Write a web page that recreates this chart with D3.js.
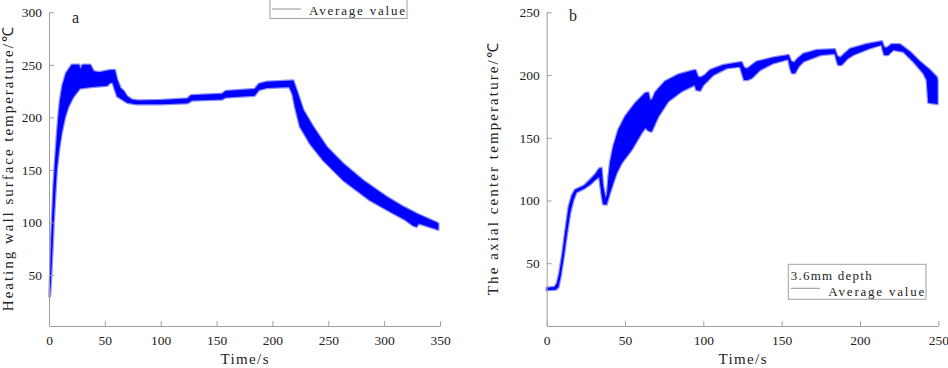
<!DOCTYPE html>
<html>
<head>
<meta charset="utf-8">
<script src="https://cdn.jsdelivr.net/npm/d3@7"></script>
<style>
  body { margin: 0; background: #fff; }
  .label { font-family: "Liberation Serif", serif; fill: #222; }
</style>
</head>
<body>
<div id="chart"></div>
<script>
// panel a: heating wall surface temperature band (upper / lower envelope)
const aUpperT = [0.5, 1, 2, 3, 4, 5, 6, 7, 8.3, 9.8, 11.9, 15.2, 20.3, 27, 28, 30, 37, 40, 45, 55, 57, 59, 61, 64, 67, 70, 74, 80, 100, 124, 127, 155, 158, 184, 188, 195, 218.7, 221.7, 227.7, 236.6, 248.6, 263.5, 281.4, 302.3, 317.2, 330, 347, 348.5];
const aUpperV = [33, 50, 85, 110, 135, 152, 167, 182, 200, 216, 230, 242, 250, 250, 246, 250, 250, 244, 243, 245, 245, 245, 236, 228, 225, 220, 217, 216, 216.5, 218, 221, 222.5, 225, 227, 232, 234, 235, 226, 207, 191, 172, 156, 140, 124.5, 115, 108, 100, 99];
const aLowerT = [0.5, 1, 2, 3, 4, 5, 6, 7, 9, 11.3, 14.3, 17.3, 21.8, 27.7, 38, 52, 55, 57, 59, 61, 64, 70, 78, 100, 124, 128, 155, 158, 184, 188, 195, 215, 218, 220.2, 224.7, 233.6, 245.5, 263.5, 287.4, 308.2, 318, 326, 329, 331, 348.5];
const aLowerV = [29, 32, 50, 72, 95, 115, 133, 150, 169, 185, 200, 210, 219.5, 227.5, 229, 230, 233, 233, 226, 220, 218, 214, 212.5, 212.5, 213.5, 216, 217, 219, 220.5, 226, 228, 229, 222, 210, 191, 175, 159, 140, 121, 108.6, 103, 97, 96, 99, 93];

// panel b: axial center temperature band
const bUpperT = [0, 5, 6.5, 8, 10, 12, 14, 16, 18, 24, 28, 31, 33.5, 35, 36, 37.5, 38.5, 39.3, 40.4, 42.5, 45.7, 50, 56.4, 62.8, 64.9, 66, 67.5, 69.1, 75.5, 84, 92.6, 95, 96.5, 98, 101, 104.2, 112.7, 123.4, 124.5, 126, 128, 130, 134, 144.7, 154.5, 156, 158, 160, 163.8, 172.4, 184, 185.5, 187.5, 190, 193.6, 204.3, 214, 215.5, 217.5, 220, 225.5, 231.9, 238.3, 244.7, 249, 249.5];
const bUpperV = [30.5, 31, 34, 42, 58, 77, 95, 104, 108.5, 112, 117, 121, 125.5, 126, 112, 102, 105, 117, 130, 143, 156.4, 167, 177.6, 185.6, 186, 180, 181, 186, 195, 200.5, 203.5, 204, 199, 198, 200, 204, 208, 210.2, 210.2, 206, 205, 207, 210.7, 214, 216, 211, 210, 213, 217, 220, 220.5, 215, 214, 217, 221, 224.7, 227, 222, 222, 224.5, 224.5, 218.6, 210.7, 204, 198.5, 196];
const bLowerT = [0, 6, 7.5, 9, 11, 13, 15, 17, 19, 24, 28, 31, 33.5, 35, 36, 38.2, 40.4, 42.5, 44.7, 47.9, 54.3, 60.6, 63, 64.5, 66, 67, 71.3, 77.6, 86.2, 94.5, 95.5, 98, 100, 106.4, 114.9, 123.4, 125, 126, 128, 130.9, 136.2, 144.7, 154.2, 155.5, 156.5, 158.5, 161, 164, 174.9, 184, 185, 186, 188.3, 192, 195.7, 206.4, 213.8, 214.5, 215.5, 218, 221.3, 227.6, 234, 240.4, 242.6, 243.6, 249.5];
const bLowerV = [28.5, 29, 31, 40, 56, 74, 90, 100, 106.5, 109.5, 113, 116.5, 119, 105, 97, 96.8, 106, 114, 122, 130, 140.5, 153.8, 158, 156, 155, 155, 167, 179, 187, 192, 188, 187.5, 192, 200, 205.4, 206.7, 200, 196, 196, 197.5, 204, 209.4, 212.5, 205, 201.5, 201.5, 207, 210.7, 216, 217, 212, 208, 208, 213, 216, 221.3, 224, 220, 216, 216, 220, 218.6, 210.7, 201.4, 196, 178, 177];

const aXTicks = [0, 50, 100, 150, 200, 250, 300, 350];
const aYTicks = [50, 100, 150, 200, 250, 300];
const bXTicks = [0, 50, 100, 150, 200, 250];
const bYTicks = [50, 100, 150, 200, 250];

const svg = d3.select("#chart")
  .append("svg")
  .attr("width", 948)
  .attr("height", 368);

const axisColor = "#a0a0a0";

// spaced serif text, stretched to the width seen in the picture
function label(sel, txt, x, y, size, len, anchor) {
  return sel.append("text")
    .attr("class", "label")
    .attr("x", x).attr("y", y)
    .attr("text-anchor", anchor || "start")
    .attr("textLength", len)
    .attr("lengthAdjust", "spacing")
    .style("font-size", size + "px")
    .text(txt);
}

function panel(opt) {
  const x = d3.scaleLinear().domain(opt.xDomain).range(opt.xRange);
  const y = d3.scaleLinear().domain(opt.yDomain).range(opt.yRange);
  const g = svg.append("g");

  // band = upper envelope forward, lower envelope back
  const pts = opt.upT.map((t, i) => [t, opt.upV[i]])
    .concat(opt.loT.map((t, i) => [t, opt.loV[i]]).reverse());
  const line = d3.line().x(d => x(d[0])).y(d => y(d[1]));

  g.append("path")
    .attr("d", line(pts) + "Z")
    .attr("fill", "#0000ff")
    .attr("stroke", "#0000ff")
    .attr("stroke-opacity", 0.45)
    .attr("stroke-width", 2.5)
    .attr("stroke-linejoin", "round");

  const xAxis = g.append("g")
    .attr("transform", `translate(0,${opt.yRange[0]})`)
    .call(d3.axisBottom(x).tickValues(opt.xTicks).tickSizeInner(-5).tickSizeOuter(0).tickPadding(9));
  const yAxis = g.append("g")
    .attr("transform", `translate(${opt.xRange[0]},0)`)
    .call(d3.axisLeft(y).tickValues(opt.yTicks).tickSizeInner(-5).tickSizeOuter(0).tickPadding(7));
  [xAxis, yAxis].forEach(a => {
    a.select(".domain").attr("stroke", axisColor);
    a.selectAll(".tick line").attr("stroke", axisColor);
    a.selectAll(".tick text")
      .style("font-family", "'Liberation Serif', serif")
      .style("font-size", "13.5px")
      .attr("fill", "#222");
  });

  label(g, "Time/s", (opt.xRange[0] + opt.xRange[1]) / 2, 364, 15, 48, "middle");

  label(g, opt.yTitle, 0, 0, 15, opt.yTitleLen, "middle")
    .attr("transform", `translate(${opt.yTitleX},${(opt.yRange[0] + opt.yRange[1]) / 2}) rotate(-90)`);

  g.append("text")
    .attr("class", "label")
    .attr("x", opt.tag[0])
    .attr("y", opt.tag[1])
    .style("font-size", "16px")
    .text(opt.tag[2]);

  return g;
}

const ga = panel({
  xDomain: [0, 350], xRange: [49, 440],
  yDomain: [1.5, 300], yRange: [326, 12.3],
  xTicks: aXTicks, yTicks: aYTicks,
  upT: aUpperT, upV: aUpperV, loT: aLowerT, loV: aLowerV,
  yTitle: "Heating wall surface temperature/℃", yTitleX: 12.5, yTitleLen: 284,
  tag: [72, 23, "a"]
});

const gb = panel({
  xDomain: [0, 250], xRange: [546.7, 938.3],
  yDomain: [0, 250], yRange: [326, 12.3],
  xTicks: bXTicks, yTicks: bYTicks,
  upT: bUpperT, upV: bUpperV, loT: bLowerT, loV: bLowerV,
  yTitle: "The axial center temperature/℃", yTitleX: 498, yTitleLen: 252,
  tag: [569, 21, "b"]
});

// legends
ga.append("rect")
  .attr("x", 270).attr("y", -1).attr("width", 137).attr("height", 19.5)
  .attr("fill", "#fff").attr("stroke", axisColor);
ga.append("line")
  .attr("x1", 272).attr("x2", 301).attr("y1", 9).attr("y2", 9)
  .attr("stroke", "#777").attr("stroke-width", 0.8);
label(ga, "Average value", 309, 14.5, 13, 96);

gb.append("rect")
  .attr("x", 788.3).attr("y", 264.3).attr("width", 137.7).attr("height", 35)
  .attr("fill", "#fff").attr("stroke", axisColor);
label(gb, "3.6mm depth", 790.7, 280, 13, 81);
gb.append("line")
  .attr("x1", 790.7).attr("x2", 820).attr("y1", 288.3).attr("y2", 288.3)
  .attr("stroke", "#777").attr("stroke-width", 0.8);
label(gb, "Average value", 828.3, 295.7, 13, 96);
</script>
</body>
</html>
